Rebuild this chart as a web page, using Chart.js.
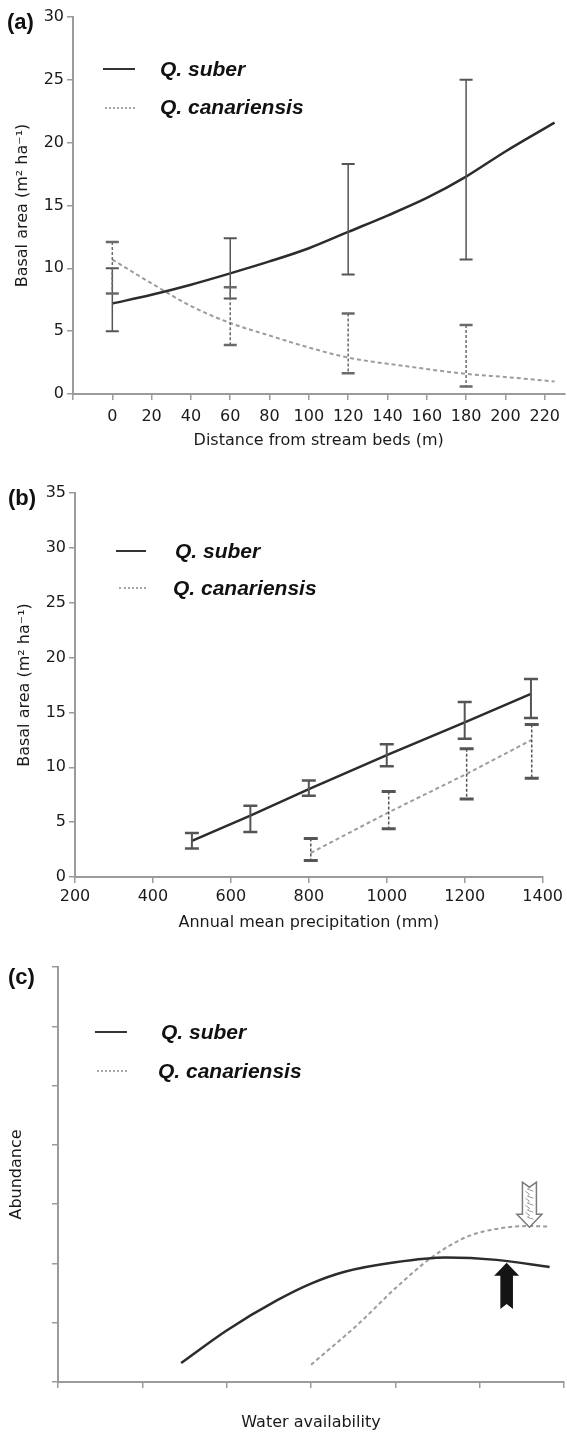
<!DOCTYPE html>
<html>
<head>
<meta charset="utf-8">
<script src="https://cdn.jsdelivr.net/npm/chart.js@4.4.1/dist/chart.umd.min.js"></script>
<style>
body { margin: 0; background: #fff; }
#page { position: relative; width: 567px; height: 1433px; overflow: hidden; font-family: "Liberation Sans", Arial, sans-serif; }
canvas { position: absolute; left: 0; }
.tag { position: absolute; font-weight: bold; font-size: 22px; line-height: 22px; color: #111; }
.leg { position: absolute; font: italic bold 21px "Liberation Sans", Arial, sans-serif; line-height: 22px; color: #111; white-space: nowrap; }
.smp { position: absolute; height: 0; }
.solid { border-top: 2.5px solid #333; }
.dash { border-top: 2px dotted #a5a5a5; }
</style>
</head>
<body>
<div id="page">
  <canvas id="ca" width="567" height="460" style="top:0px"></canvas>
  <canvas id="cb" width="567" height="480" style="top:460px"></canvas>
  <canvas id="cc" width="567" height="493" style="top:940px"></canvas>

  <div class="tag" style="left:7px;top:11px">(a)</div>
  <div class="smp solid" style="left:103px;top:68px;width:32px"></div>
  <div class="leg" style="left:160px;top:58px">Q. suber</div>
  <div class="smp dash" style="left:105px;top:107px;width:30px"></div>
  <div class="leg" style="left:160px;top:96px">Q. canariensis</div>

  <div class="tag" style="left:8px;top:487px">(b)</div>
  <div class="smp solid" style="left:116px;top:550px;width:30px"></div>
  <div class="leg" style="left:175px;top:540px">Q. suber</div>
  <div class="smp dash" style="left:119px;top:587px;width:27px"></div>
  <div class="leg" style="left:173px;top:577px">Q. canariensis</div>

  <div class="tag" style="left:8px;top:966px">(c)</div>
  <div class="smp solid" style="left:95px;top:1031px;width:32px"></div>
  <div class="leg" style="left:161px;top:1021px">Q. suber</div>
  <div class="smp dash" style="left:97px;top:1070px;width:30px"></div>
  <div class="leg" style="left:158px;top:1060px">Q. canariensis</div>
</div>
<script>
// (a) basal area vs distance from stream beds
var distBars = [0, 60, 120, 180];
var suberLoA = [5.0, 7.6, 9.5, 10.7];
var suberHiA = [10.0, 12.4, 18.3, 25.0];
var canLoA = [8.0, 3.9, 1.65, 0.6];
var canHiA = [12.1, 8.5, 6.4, 5.5];
var suberCurveX = [0, 20, 40, 60, 80, 100, 120, 140, 160, 180, 200, 225];
var suberCurveY = [7.2, 7.9, 8.7, 9.6, 10.55, 11.6, 12.9, 14.2, 15.6, 17.3, 19.3, 21.6];
var canCurveX = [0, 20, 40, 60, 80, 100, 120, 150, 180, 200, 225];
var canCurveY = [10.7, 8.8, 7.0, 5.65, 4.65, 3.7, 2.9, 2.2, 1.6, 1.35, 1.0];

// (b) basal area vs annual precipitation
var precipSuber = [500, 650, 800, 1000, 1200, 1370];
var suberMeanB = [3.3, 5.6, 8.0, 11.1, 14.1, 16.7];
var suberLoB = [2.6, 4.1, 7.4, 10.1, 12.6, 14.5];
var suberHiB = [4.0, 6.5, 8.8, 12.1, 15.95, 18.05];
var precipCan = [805, 1005, 1205, 1372];
var canMeanB = [2.2, 5.9, 9.4, 12.5];
var canLoB = [1.5, 4.4, 7.1, 9.0];
var canHiB = [3.5, 7.8, 11.7, 13.9];

// (c) conceptual abundance vs water availability
var waterSuber = [1.46, 2.0, 2.6, 3.0, 3.4, 4.0, 4.6, 5.2, 5.83];
var abundSuber = [0.32, 0.87, 1.38, 1.66, 1.86, 2.02, 2.10, 2.06, 1.94];
var waterCan = [3.0, 3.57, 4.0, 4.43, 4.85, 5.28, 5.61, 5.83];
var abundCan = [0.29, 0.99, 1.58, 2.1, 2.45, 2.6, 2.63, 2.62];
var arrowX = [5.32, 5.59];
var arrowTip = [2.01, 2.61];
var arrowTail = [1.23, 3.37];

var axisGrey = "#9b9b9b";
var textCol = "#1a1a1a";
var labFont = { family: "DejaVu Sans", size: 16 };
var basalTitle = "Basal area (m\u00b2 ha\u207b\u00b9)";

function toXY(xs, ys) {
  return xs.map(function (v, i) { return { x: v, y: ys[i] }; });
}

function xAxis(min, max, step, h, tickPad, text, titlePad, labels) {
  return {
    type: "linear", min: min, max: max,
    afterFit: function (s) { s.height = h; },
    border: { color: axisGrey, width: 2 },
    grid: { drawOnChartArea: false, color: axisGrey, lineWidth: 1.5, tickLength: 6 },
    ticks: {
      stepSize: step, includeBounds: false, padding: tickPad, color: textCol, font: labFont,
      maxRotation: 0, autoSkip: false,
      callback: function (v) { return (labels && v >= 0) ? v : ""; }
    },
    title: { display: true, text: text, color: textCol, font: labFont, padding: { top: 0, bottom: titlePad } }
  };
}

function yAxis(min, max, step, w, text, titlePad, labels) {
  return {
    type: "linear", min: min, max: max,
    afterFit: function (s) { s.width = w; },
    border: { color: axisGrey, width: 2 },
    grid: { drawOnChartArea: false, color: axisGrey, lineWidth: 1.5, tickLength: 6 },
    ticks: {
      stepSize: step, includeBounds: false, padding: 3, color: textCol, font: labFont,
      callback: function (v) { return labels ? v : ""; }
    },
    title: { display: true, text: text, color: textCol, font: labFont, padding: { top: titlePad, bottom: 0 } }
  };
}

function solidLine(data, straight) {
  return { data: data, showLine: true, borderColor: "#2c2c2c", borderWidth: 2.5, pointRadius: 0,
    cubicInterpolationMode: straight ? "default" : "monotone", tension: straight ? 0 : 0.4 };
}
function dashLine(data, straight) {
  return { data: data, showLine: true, borderColor: "#9c9c9c", borderWidth: 2, borderDash: [4, 3], pointRadius: 0,
    cubicInterpolationMode: straight ? "default" : "monotone", tension: straight ? 0 : 0.4 };
}

// error bars drawn through the chart's own scales
var errorBars = {
  id: "errorBars",
  afterDatasetsDraw: function (chart, args, opts) {
    var ctx = chart.ctx, x = chart.scales.x, y = chart.scales.y;
    (opts.sets || []).forEach(function (s) {
      ctx.save();
      ctx.strokeStyle = s.color;
      s.x.forEach(function (v, i) {
        var px = x.getPixelForValue(v);
        var top = y.getPixelForValue(s.hi[i]);
        var bot = y.getPixelForValue(s.lo[i]);
        ctx.lineWidth = s.width;
        ctx.setLineDash(s.dash || []);
        ctx.beginPath(); ctx.moveTo(px, top); ctx.lineTo(px, bot); ctx.stroke();
        ctx.setLineDash([]);
        ctx.lineWidth = s.capWidth;
        ctx.beginPath();
        ctx.moveTo(px - s.cap, top); ctx.lineTo(px + s.cap, top);
        ctx.moveTo(px - s.cap, bot); ctx.lineTo(px + s.cap, bot);
        ctx.stroke();
      });
      ctx.restore();
    });
  }
};

function arrowPath(ctx, cx, tip, tail, sw) {
  var dir = tail > tip ? 1 : -1;
  var head = 13, hw = 12.5, notch = 5;
  ctx.beginPath();
  ctx.moveTo(cx, tip);
  ctx.lineTo(cx + hw, tip + dir * head);
  ctx.lineTo(cx + sw, tip + dir * head);
  ctx.lineTo(cx + sw, tail);
  ctx.lineTo(cx, tail - dir * notch);
  ctx.lineTo(cx - sw, tail);
  ctx.lineTo(cx - sw, tip + dir * head);
  ctx.lineTo(cx - hw, tip + dir * head);
  ctx.closePath();
}

// block arrows for panel (c)
var arrows = {
  id: "arrows",
  afterDatasetsDraw: function (chart, args, opts) {
    if (!opts.x) return;
    var ctx = chart.ctx, x = chart.scales.x, y = chart.scales.y;
    opts.x.forEach(function (v, i) {
      var cx = x.getPixelForValue(v);
      var tip = y.getPixelForValue(opts.tip[i]);
      var tail = y.getPixelForValue(opts.tail[i]);
      var sw = opts.shaft[i];
      ctx.save();
      arrowPath(ctx, cx, tip, tail, sw);
      if (opts.fill[i]) {
        ctx.fillStyle = "#141414";
        ctx.fill();
      } else {
        ctx.fillStyle = "#fff";
        ctx.fill();
        ctx.save();
        ctx.clip();
        ctx.strokeStyle = "#9a9a9a";
        ctx.lineWidth = 1;
        for (var k = Math.min(tail, tip) + 2; k < Math.max(tail, tip) - 12; k += 7) {
          ctx.beginPath();
          ctx.moveTo(cx - sw + 3, k);
          ctx.lineTo(cx, k + 3);
          ctx.lineTo(cx - 2, k + 5);
          ctx.lineTo(cx + sw - 3, k + 7);
          ctx.stroke();
        }
        ctx.restore();
        arrowPath(ctx, cx, tip, tail, sw);
        ctx.strokeStyle = "#7a7a7a";
        ctx.lineWidth = 1.5;
        ctx.stroke();
      }
      ctx.restore();
    });
  }
};

function baseOptions(pad, scales, plug) {
  return {
    responsive: false,
    animation: false,
    layout: { padding: pad },
    scales: scales,
    plugins: Object.assign({ legend: { display: false }, tooltip: { enabled: false } }, plug)
  };
}

new Chart(document.getElementById("ca").getContext("2d"), {
  type: "scatter",
  data: { datasets: [
    solidLine(toXY(suberCurveX, suberCurveY), false),
    dashLine(toXY(canCurveX, canCurveY), false)
  ] },
  options: baseOptions({ left: 0, top: 17, right: 0, bottom: 0 }, {
    x: xAxis(-20, 230, 20, 66, 7, "Distance from stream beds (m)", 10, true),
    y: yAxis(0, 30, 5, 73, basalTitle, 13, true)
  }, {
    errorBars: { sets: [
      { x: distBars, lo: suberLoA, hi: suberHiA, color: "#555", width: 1.5, capWidth: 2, cap: 6.5 },
      { x: distBars, lo: canLoA, hi: canHiA, color: "#6a6a6a", width: 1.5, capWidth: 2.5, cap: 6.5, dash: [3, 2] }
    ] }
  }),
  plugins: [errorBars]
});

new Chart(document.getElementById("cb").getContext("2d"), {
  type: "scatter",
  data: { datasets: [
    solidLine(toXY(precipSuber, suberMeanB), true),
    dashLine(toXY(precipCan, canMeanB), true)
  ] },
  options: baseOptions({ left: 0, top: 33, right: 22, bottom: 0 }, {
    x: xAxis(200, 1400, 200, 63, 4, "Annual mean precipitation (mm)", 8, true),
    y: yAxis(0, 35, 5, 75, basalTitle, 15, true)
  }, {
    errorBars: { sets: [
      { x: precipSuber, lo: suberLoB, hi: suberHiB, color: "#555", width: 2, capWidth: 2.5, cap: 7 },
      { x: precipCan, lo: canLoB, hi: canHiB, color: "#555", width: 1.5, capWidth: 3, cap: 7, dash: [3, 2] }
    ] }
  }),
  plugins: [errorBars]
});

new Chart(document.getElementById("cc").getContext("2d"), {
  type: "scatter",
  data: { datasets: [
    solidLine(toXY(waterSuber, abundSuber), false),
    dashLine(toXY(waterCan, abundCan), false)
  ] },
  options: baseOptions({ left: 0, top: 27, right: 0, bottom: 0 }, {
    x: xAxis(0, 6, 1, 51, 3, "Water availability", 1, false),
    y: yAxis(0, 7, 1, 58, "Abundance", 7, false)
  }, {
    arrows: { x: arrowX, tip: arrowTip, tail: arrowTail, fill: [true, false], shaft: [6.3, 7] }
  }),
  plugins: [arrows]
});
</script>
</body>
</html>
